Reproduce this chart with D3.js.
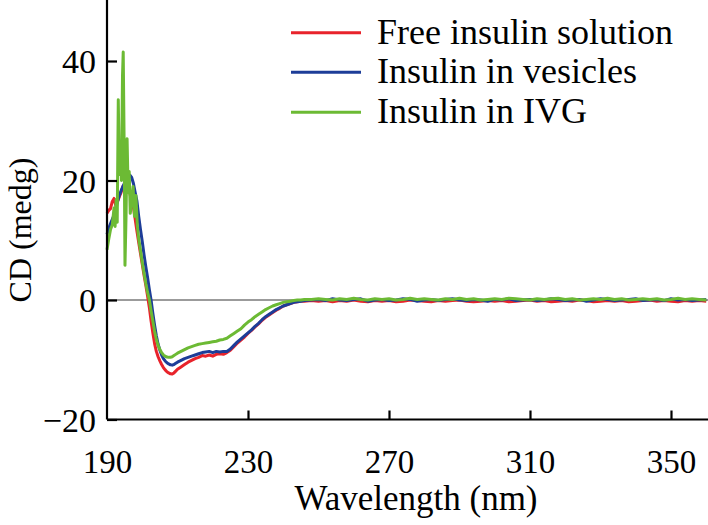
<!DOCTYPE html>
<html>
<head>
<meta charset="utf-8">
<script src="https://cdn.jsdelivr.net/npm/d3@7"></script>
<style>
  html, body { margin: 0; padding: 0; background: #fff; }
  svg { display: block; }
  text { font-family: "Liberation Serif", "Times New Roman", serif; fill: #000; }
</style>
</head>
<body>
<svg id="chart" width="708" height="525"></svg>
<script>
// ---------------- data ----------------
const seriesNames = ["Free insulin solution", "Insulin in vesicles", "Insulin in IVG"];
const xTicks = [190, 230, 270, 310, 350];
const yTicks = [-20, 0, 20, 40];

// wavelength grid shared by the red and blue curves (nm)
const wlMain = [190,190.5,191,191.5,192,192.5,193,193.5,194,194.5,195,195.5,196,196.5,197,197.5,198,198.5,199,199.5,
  200,200.5,201,201.5,202,202.5,203,203.5,204,204.5,205,205.5,206,206.5,207,207.5,208,208.5,209,209.5,210,
  211,212,213,214,215,216,217,218,219,220,221,222,223,224,225,226,227,228,229,230,
  231,232,233,234,235,236,237,238,239,240,241,242,243,244,245,246];
const wlTail = [248,250,252,254,256,258,260,262,264,266,268,270,272,274,276,278,280,282,284,286,288,290,
  292,294,296,298,300,302,304,306,308,310,312,314,316,318,320,322,324,326,328,330,332,334,336,338,340,
  342,344,346,348,350,352,354,356,358,360];
// green (IVG) has a finer, spiky start
const wlGreenHead = [190,190.5,191,191.5,192,192.3,192.6,192.9,193.2,193.5,193.8,194.1,194.4,194.6,194.9,
  195.1,195.4,195.7,196,196.3,196.6,197,197.4,197.8,198.2,198.6,199,199.5,200];

const redMain = [14.5,15.0,15.3,16.5,17.0,15.8,16.5,17.3,18.0,19.0,19.0,19.2,18.8,17.8,16.5,15.5,13.5,11.5,9.6,7.8,
  6.0,4.2,2.5,0.7,-1.2,-3.5,-5.5,-7.3,-8.6,-9.5,-10.2,-10.8,-11.3,-11.7,-12.0,-12.2,-12.35,-12.4,-12.2,-11.9,-11.6,
  -11.2,-10.8,-10.4,-10.1,-9.8,-9.6,-9.3,-9.4,-9.2,-9.4,-9.1,-9.0,-9.1,-8.8,-8.4,-7.8,-7.2,-6.7,-6.2,-5.6,
  -5.1,-4.5,-4.0,-3.4,-2.9,-2.5,-2.1,-1.7,-1.4,-1.0,-0.8,-0.6,-0.4,-0.3,-0.2,-0.2];
const redTail = [-0.1,-0.2,-0.1,-0.3,-0.1,-0.2,0.0,-0.2,-0.3,-0.1,
  -0.2,-0.1,-0.3,-0.2,0.0,-0.1,-0.2,-0.3,-0.1,-0.2,
  -0.1,0.0,-0.2,-0.3,-0.2,-0.1,-0.2,-0.1,-0.3,-0.2,
  -0.1,0.0,-0.2,-0.1,-0.3,-0.2,-0.1,-0.2,0.0,-0.1,
  -0.3,-0.2,-0.1,-0.2,-0.1,-0.3,-0.2,-0.1,0.0,-0.2,
  -0.1,-0.2,-0.3,-0.1,-0.2,-0.1,-0.2];

const blueMain = [11.0,12.0,12.8,13.5,14.2,15.2,16.5,17.5,18.3,19.0,19.6,20.2,20.6,20.9,20.5,19.5,18.0,16.5,14.0,11.8,
  9.8,7.6,5.6,3.8,1.8,0.0,-2.2,-4.2,-6.0,-7.4,-8.4,-9.2,-9.8,-10.2,-10.5,-10.7,-10.85,-10.9,-10.8,-10.6,-10.4,
  -10.1,-9.8,-9.6,-9.4,-9.2,-9.0,-8.8,-8.7,-8.6,-8.8,-8.6,-8.7,-8.6,-8.6,-8.2,-7.6,-7.0,-6.5,-6.0,-5.5,
  -5.0,-4.4,-3.9,-3.3,-2.8,-2.4,-2.0,-1.6,-1.3,-1.0,-0.8,-0.6,-0.4,-0.3,-0.2,-0.1];
const blueTail = [0.0,0.1,-0.1,0.2,0.0,-0.1,0.1,0.2,-0.2,0.0,
  0.1,-0.1,0.0,0.2,0.1,-0.2,0.0,0.1,-0.1,0.1,
  0.2,0.0,-0.1,0.1,0.0,-0.2,0.1,0.0,0.2,-0.1,
  0.0,0.1,-0.1,0.0,0.2,0.1,-0.1,0.0,0.1,-0.2,
  0.0,0.2,0.1,-0.1,0.0,0.1,0.2,-0.1,0.0,0.1,
  -0.1,0.2,0.0,0.1,-0.1,0.0,0.1];

const greenHead = [8.4,10.2,11.8,12.6,15.4,12.3,16.8,13.0,33.5,21.0,26.0,20.0,37.5,41.5,24.0,
  5.8,14.0,27.0,18.0,21.5,14.5,16.5,19.0,14.0,17.5,12.5,10.2,8.3,6.3];
// green values on wlMain from 200.5 nm onward
const greenMainRest = [4.5,2.8,1.3,0.1,-1.8,-3.5,-5.2,-6.6,-7.6,-8.3,-8.8,-9.2,-9.4,-9.55,-9.6,-9.6,-9.5,-9.3,-9.1,-8.9,
  -8.6,-8.3,-8.0,-7.8,-7.6,-7.4,-7.3,-7.2,-7.1,-7.0,-6.9,-6.7,-6.6,-6.4,-6.0,-5.6,-5.2,-4.8,-4.2,-3.7,
  -3.3,-2.8,-2.4,-2.0,-1.6,-1.3,-1.0,-0.8,-0.6,-0.4,-0.3,-0.2,-0.1,0.0,0.0,0.1];
const greenTail = [0.1,0.2,0.1,0.0,0.2,0.1,0.3,0.1,0.0,0.2,
  0.1,0.2,0.0,0.1,0.3,0.1,0.2,0.1,0.0,0.2,
  0.1,0.3,0.1,0.2,0.0,0.1,0.2,0.1,0.3,0.2,
  0.1,0.0,0.2,0.1,0.2,0.3,0.1,0.2,0.0,0.1,
  0.2,0.1,0.3,0.1,0.2,0.0,0.1,0.2,0.1,0.2,
  0.0,0.1,0.3,0.1,0.2,0.1,0.0];

const colors = ["#e8232b", "#1d3d98", "#6cba34"];

// ---------------- build series ----------------
function pair(xs, ys) {
  const n = Math.min(xs.length, ys.length);
  const out = [];
  for (let i = 0; i < n; i++) out.push([xs[i], ys[i]]);
  return out;
}
const wlMainAfter200 = wlMain.filter(w => w > 200);
const series = [
  pair(wlMain, redMain).concat(pair(wlTail, redTail)),
  pair(wlMain, blueMain).concat(pair(wlTail, blueTail)),
  pair(wlGreenHead, greenHead).concat(pair(wlMainAfter200, greenMainRest)).concat(pair(wlTail, greenTail))
];

// ---------------- draw ----------------
const svg = d3.select("#chart");
const x = d3.scaleLinear().domain([190, 360.5]).range([107, 708]);
const y = d3.scaleLinear().domain([-20, 50]).range([419.5, 1.25]);

// zero reference line
svg.append("line")
  .attr("x1", x(190)).attr("x2", 708)
  .attr("y1", y(0)).attr("y2", y(0))
  .attr("stroke", "#7a7a7a").attr("stroke-width", 1.6);

const line = d3.line().x(d => x(d[0])).y(d => y(d[1]));
series.forEach((s, i) => {
  svg.append("path")
    .datum(s)
    .attr("d", line)
    .attr("fill", "none")
    .attr("stroke", colors[i])
    .attr("stroke-width", 3)
    .attr("stroke-linejoin", "round");
});

// axes
const yAxis = svg.append("g")
  .attr("transform", `translate(${x(190)},0)`)
  .call(d3.axisLeft(y).tickValues(yTicks).tickSizeInner(-10).tickSizeOuter(0)
    .tickFormat(d => d < 0 ? "\u2212" + Math.abs(d) : d));
yAxis.select(".domain").attr("stroke", "#000").attr("stroke-width", 2.2)
  .attr("d", `M0,0V${y(-20)}`);
yAxis.selectAll(".tick line").attr("stroke", "#000").attr("stroke-width", 2.2);
yAxis.selectAll(".tick text")
  .attr("x", -11).attr("dy", "0.34em")
  .style("font-size", "34px").style("font-family", "'Liberation Serif', serif");

const xAxis = svg.append("g")
  .attr("transform", `translate(0,${y(-20)})`)
  .call(d3.axisBottom(x).tickValues(xTicks).tickSizeInner(-9).tickSizeOuter(0));
xAxis.select(".domain").attr("stroke", "#000").attr("stroke-width", 2.2)
  .attr("d", `M${x(190)},0H708`);
xAxis.selectAll(".tick line").attr("stroke", "#000").attr("stroke-width", 2.2);
xAxis.selectAll(".tick").filter(d => d === 190).select("line").remove();
xAxis.selectAll(".tick text")
  .attr("y", 53).attr("dy", "0")
  .style("font-size", "33px").style("font-family", "'Liberation Serif', serif");

// axis titles
svg.append("text")
  .attr("x", 416).attr("y", 510)
  .attr("text-anchor", "middle")
  .style("font-size", "35px")
  .text("Wavelength (nm)");
svg.append("text")
  .attr("transform", "translate(31,230) rotate(-90)")
  .attr("text-anchor", "middle")
  .style("font-size", "32px")
  .text("CD (medg)");

// legend
const legendY = [32.7, 72.3, 112.3];
seriesNames.forEach((name, i) => {
  svg.append("line")
    .attr("x1", 291).attr("x2", 361)
    .attr("y1", legendY[i]).attr("y2", legendY[i])
    .attr("stroke", colors[i]).attr("stroke-width", 3);
  svg.append("text")
    .attr("x", 377).attr("y", legendY[i] + 11)
    .style("font-size", "36px")
    .text(name);
});
</script>
</body>
</html>
